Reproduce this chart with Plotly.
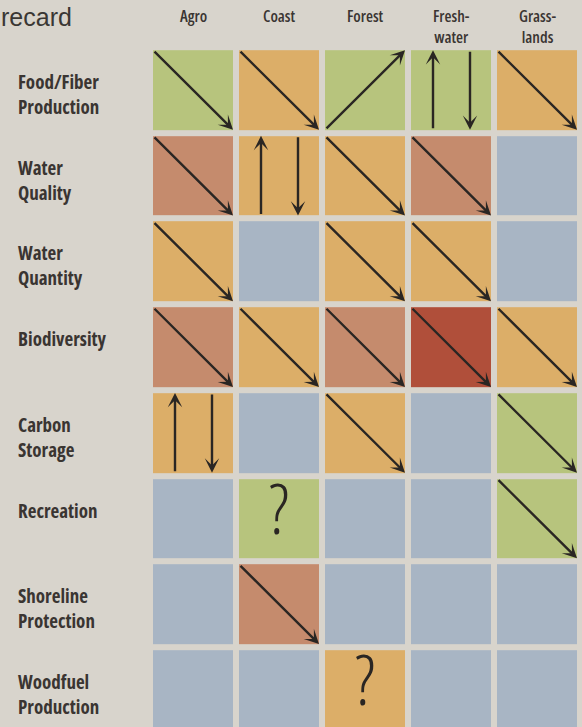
import plotly.graph_objects as go

# ---- data ----
ecosystems = ["Agro", "Coast", "Forest", "Freshwater", "Grasslands"]
header_labels = ["Agro", "Coast", "Forest", "Fresh-<br>water", "Grass-<br>lands"]
services = ["Food/Fiber<br>Production", "Water<br>Quality", "Water<br>Quantity", "Biodiversity",
            "Carbon<br>Storage", "Recreation", "Shoreline<br>Protection", "Woodfuel<br>Production"]

# condition of each service per ecosystem: good / fair / poor / bad / none (no data)
condition = [
    ["good", "fair", "good", "good", "fair"],
    ["poor", "fair", "fair", "poor", "none"],
    ["fair", "none", "fair", "fair", "none"],
    ["poor", "fair", "poor", "bad", "fair"],
    ["fair", "none", "fair", "none", "good"],
    ["none", "good", "none", "none", "good"],
    ["none", "poor", "none", "none", "none"],
    ["none", "none", "fair", "none", "none"],
]
# trend of capacity: down / up / mixed / unknown / "" (none)
trend = [
    ["down", "down", "up", "mixed", "down"],
    ["down", "mixed", "down", "down", ""],
    ["down", "", "down", "down", ""],
    ["down", "down", "down", "down", "down"],
    ["mixed", "", "down", "", "down"],
    ["", "unknown", "", "", "down"],
    ["", "down", "", "", ""],
    ["", "", "unknown", "", ""],
]

cond_codes = {"none": 0, "good": 1, "fair": 2, "poor": 3, "bad": 4}
cond_colors = ["#a8b5c4", "#b7c47d", "#dcae68", "#c58b6d", "#b04f3a"]

# ---- styling ----
W, H = 582, 727
BG = "#d8d4cc"
TXT = "#3a3532"
ARW = "#2a2623"
PX = 86.0     # column pitch in px
PY = 85.7     # row pitch in px
X0 = 193.0    # px centre of first column
Y0 = 90.0     # px centre of first row
GAP = 6

z = [[cond_codes[c] for c in row] for row in condition]
n = len(cond_colors)
cs = []
for i, col in enumerate(cond_colors):
    cs.append([i / n, col])
    cs.append([(i + 1) / n, col])

fig = go.Figure()
fig.add_trace(go.Heatmap(
    z=z, x=list(range(len(ecosystems))), y=list(range(len(services))),
    colorscale=cs, zmin=-0.5, zmax=n - 0.5, showscale=False,
    xgap=GAP, ygap=GAP, hoverinfo="skip",
))

hx = (PX - GAP) / 2 / PX
hy = (PY - GAP) / 2 / PY
ux = -hx + 22 / PX
dx = -hx + 59 / PX

ann = []
def arrow(x0, y0, x1, y1):
    ann.append(dict(x=x1, y=y1, ax=x0, ay=y0, xref="x", yref="y", axref="x", ayref="y",
                    text="", showarrow=True, arrowhead=3, arrowsize=1.0, arrowwidth=2.4,
                    arrowcolor=ARW, standoff=0, startstandoff=0))

def narrow(s, pct):
    return "<br>".join('<span style="font-stretch:%d%%">%s</span>' % (pct, p) for p in s.split("<br>"))

for r, row in enumerate(trend):
    for c, t in enumerate(row):
        if t == "down":
            arrow(c - hx, r - hy, c + hx, r + hy)
        elif t == "up":
            arrow(c - hx, r + hy, c + hx, r - hy)
        elif t == "mixed":
            arrow(c + ux, r + hy, c + ux, r - hy)
            arrow(c + dx, r - hy, c + dx, r + hy)
        elif t == "unknown":
            ann.append(dict(x=c, y=r - 12 / PY, xref="x", yref="y", text=narrow("?", 75),
                            showarrow=False, yanchor="middle",
                            font=dict(family="Open Sans, Roboto, sans-serif",
                                      size=70, color="#2a2623", weight=300)))

LABEL_FONT = "Open Sans, Liberation Sans Narrow, DejaVu Sans, sans-serif"
for r, s in enumerate(services):
    ann.append(dict(x=16 / W, y=r - 23 / PY, xref="paper", yref="y", text=narrow(s, 75),
                    showarrow=False, xanchor="left", yanchor="top", align="left",
                    font=dict(family=LABEL_FONT, size=19, color=TXT, weight=700)))

for c, h in enumerate(header_labels):
    ann.append(dict(x=c, y=1 - 3 / H, xref="x", yref="paper", text=narrow(h, 75),
                    showarrow=False, xanchor="center", yanchor="top", align="center",
                    font=dict(family=LABEL_FONT, size=16, color=TXT, weight=600)))

ann.append(dict(x=-1 / W, y=1 - 1 / H, xref="paper", yref="paper", text="recard", showarrow=False,
                xanchor="left", yanchor="top",
                font=dict(family="Liberation Sans, Arial, sans-serif", size=25, color="#3a3734")))

fig.update_layout(
    width=W, height=H, margin=dict(l=0, r=0, t=0, b=0),
    paper_bgcolor=BG, plot_bgcolor=BG,
    xaxis=dict(range=[-X0 / PX, (W - X0) / PX], visible=False, fixedrange=True),
    yaxis=dict(range=[(H - Y0) / PY, -Y0 / PY], visible=False, fixedrange=True),
    annotations=ann, showlegend=False,
)

fig.write_html(
    "out.html",
    config={"displayModeBar": False},
    post_script="document.body.style.margin='0';document.body.style.background='%s';" % BG,
)
